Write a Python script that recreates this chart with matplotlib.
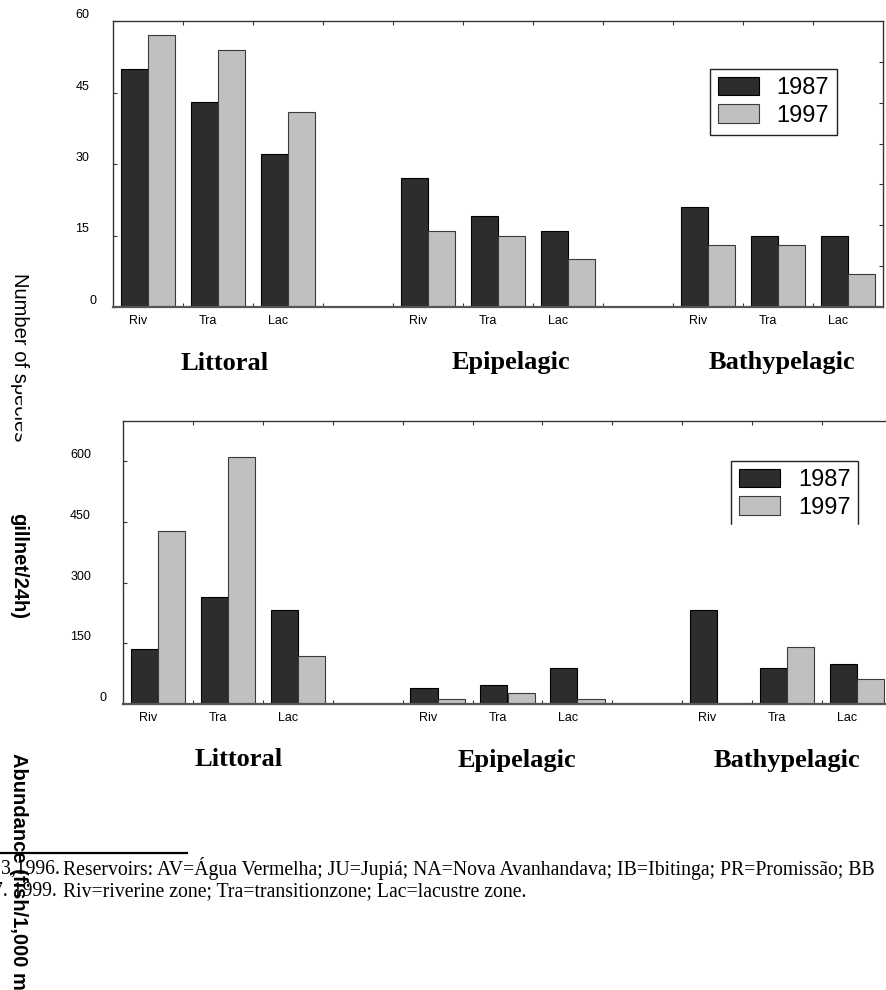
import matplotlib
matplotlib.use("Agg")
import matplotlib.pyplot as plt
from matplotlib.patches import Rectangle, Patch
from matplotlib.lines import Line2D
from matplotlib.transforms import ScaledTranslation

# data
zones = ["Riv", "Tra", "Lac"]
habitats = ["Littoral", "Epipelagic", "Bathypelagic"]
years = ["1987", "1997"]

species_1987 = [50, 43, 32, 27, 19, 16, 21, 15, 15]
species_1997 = [57, 54, 41, 16, 15, 10, 13, 13, 7]
species_ticks = [0, 15, 30, 45, 60]

abund_1987 = [137, 265, 232, 40, 48, 90, 233, 90, 100]
abund_1997 = [427, 610, 118, 12, 26, 12, 1, 140, 63]
abund_ticks = [0, 150, 300, 450, 600]

DARK = "#2d2d2d"
LIGHT = "#c0c0c0"
SANS = ["Liberation Sans", "DejaVu Sans"]
SERIF = ["Liberation Serif", "DejaVu Serif"]

W, H = 886, 990
fig = plt.figure(figsize=(W / 100, H / 100), dpi=100)


def fbox(l, t, r, b):
    return [l / W, 1 - b / H, (r - l) / W, (b - t) / H]


# slot of every bar group: 3 zones, then an empty slot, for each habitat
slots = [4 * h + z for h in range(len(habitats)) for z in range(len(zones))]


def panel(ax, v87, v97, ymax, yticks, ypad, zero_dx, leg_anchor, label_offsets):
    w = 0.39
    x = [s + 0.5 for s in slots]
    ax.bar([p - w / 2 for p in x], v87, w, color=DARK, edgecolor="black", lw=0.8)
    ax.bar([p + w / 2 for p in x], v97, w, color=LIGHT, edgecolor="#3a3a3a", lw=0.8)
    ax.set_xlim(0, 11)
    ax.set_ylim(0, ymax)

    ax.set_xticks(range(1, 11))
    ax.set_xticklabels([])
    ax.set_xticks([s + 0.36 for s in slots], minor=True)
    ax.set_xticklabels(zones * len(habitats), minor=True, fontsize=9, family=SANS)
    ax.tick_params(axis="x", which="major", direction="in", length=3,
                   top=True, color="#333333")
    ax.tick_params(axis="x", which="minor", length=0, pad=6)

    ax.set_yticks(yticks)
    ax.set_yticklabels([str(t) for t in yticks], fontsize=9, family=SANS)
    ax.tick_params(axis="y", direction="in", length=3, pad=ypad, color="#333333")
    for lbl in ax.get_yticklabels():
        lbl.set_va("bottom")
    zt = ax.yaxis.get_major_ticks()[0].label1
    zt.set_transform(zt.get_transform() + ScaledTranslation(zero_dx / 100, 0, fig.dpi_scale_trans))

    for s in ["top", "left", "right"]:
        ax.spines[s].set_color("#333333")
        ax.spines[s].set_linewidth(1)
    ax.spines["bottom"].set_color("#555555")
    ax.spines["bottom"].set_linewidth(1.6)

    for h, name in enumerate(habitats):
        cx = 4 * h + 1.5 + label_offsets[h]
        ax.annotate(name, (cx, 0), xycoords=("data", "axes fraction"),
                    xytext=(0, -56), textcoords="offset pixels",
                    ha="center", va="center", fontsize=19, fontweight="bold",
                    family=SERIF)

    handles = [Patch(facecolor=DARK, edgecolor="black", lw=0.8),
               Patch(facecolor=LIGHT, edgecolor="#3a3a3a", lw=0.8)]
    leg = ax.legend(handles, years, loc="upper left", bbox_to_anchor=leg_anchor,
                    borderaxespad=0, fancybox=False, framealpha=1,
                    prop={"family": SANS, "size": 17}, handlelength=1.75,
                    handleheight=0.83, handletextpad=0.75, borderpad=0.33,
                    labelspacing=0.22)
    leg.get_frame().set_edgecolor("#222222")
    leg.get_frame().set_linewidth(1)


ax1 = fig.add_axes(fbox(113, 21, 883, 307))
panel(ax1, species_1987, species_1997, 60, species_ticks, 17, 7,
      (0.775, 0.832), [0.1, 0.19, 0.06])
# right spine carries its own, finer ticks
axr = ax1.twinx()
axr.set_ylim(0, 7)
axr.set_yticks(range(1, 7))
axr.set_yticklabels([])
axr.tick_params(axis="y", direction="in", length=3, color="#333333")
for s in axr.spines.values():
    s.set_visible(False)

ax2 = fig.add_axes(fbox(123, 421, 892, 704))
panel(ax2, abund_1987, abund_1997, 700, abund_ticks, 23, 15,
      (0.7906, 0.8587), [0.16, 0.13, 0.0])

# cropped pieces of the scanned page
fig.add_artist(Rectangle((725 / W, 1 - 575 / H), 145 / W, 50 / H,
                         transform=fig.transFigure, color="white", zorder=5))

fig.text(10 / W, 1 - 273 / H, "Number of species", rotation=-90, ha="left", va="top",
         fontsize=14.5, family=SANS)
fig.add_artist(Rectangle((22 / W, 1 - 470 / H), 38 / W, 87 / H,
                         transform=fig.transFigure, color="white", zorder=5))

fig.text(9 / W, 1 - 513 / H, "gillnet/24h)", rotation=-90, ha="left", va="top",
         fontsize=14.5, fontweight="bold", family=SANS, zorder=6)

# footnote
fig.add_artist(Line2D([0, 187 / W], [1 - 853 / H] * 2, transform=fig.transFigure,
                      color="black", lw=1.6))
note1_pre = "3,1996."
note1 = "Reservoirs: AV=Água Vermelha; JU=Jupiá; NA=Nova Avanhandava; IB=Ibitinga; PR=Promissão; BB"
note2_pre = "7. 1999."
note2 = "Riv=riverine zone; Tra=transitionzone; Lac=lacustre zone."
fig.text(1 / W, 1 - 869 / H, note1_pre, ha="left", va="center", fontsize=14.2, family=SERIF)
fig.text(63 / W, 1 - 869 / H, note1, ha="left", va="center", fontsize=14.2, family=SERIF)
fig.text(57 / W, 1 - 892 / H, note2_pre, ha="right", va="center", fontsize=14.2, family=SERIF)
fig.text(63 / W, 1 - 892 / H, note2, ha="left", va="center", fontsize=14.2, family=SERIF)

fig.text(9 / W, 1 - 753 / H, "Abundance (fish/1,000 m", rotation=-90, ha="left", va="top",
         fontsize=14.5, fontweight="bold", family=SANS, zorder=6)

fig.savefig("out.png", dpi=100)
